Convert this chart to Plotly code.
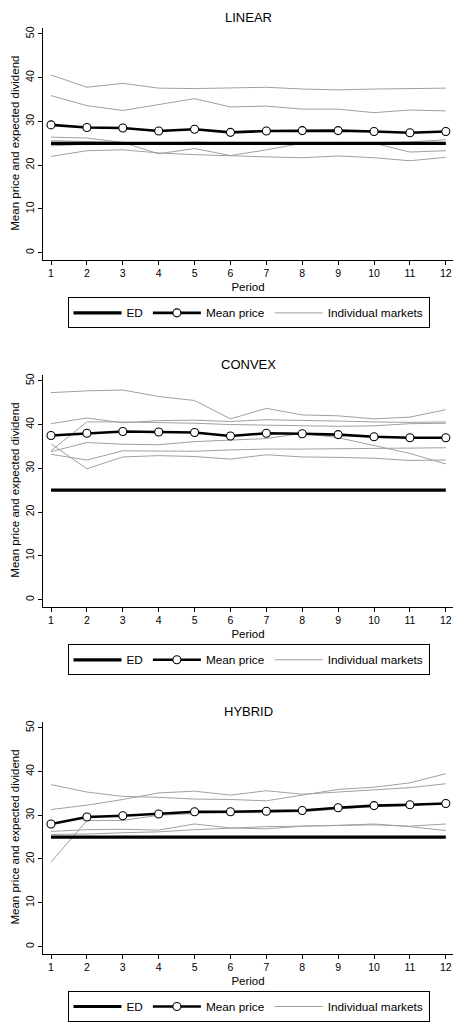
import plotly.graph_objects as go

# ---------------- data ----------------
periods = list(range(1, 13))
y_ticks = [0, 10, 20, 30, 40, 50]
ed_value = [25, 25, 25, 25, 25, 25, 25, 25, 25, 25, 25, 25]

# LINEAR
linear_mean = [29.2, 28.6, 28.5, 27.8, 28.2, 27.5, 27.8, 27.9, 27.9, 27.7, 27.4, 27.7]
linear_m1 = [40.6, 37.8, 38.7, 37.6, 37.5, 37.7, 37.8, 37.4, 37.2, 37.4, 37.5, 37.6]
linear_m2 = [35.9, 33.6, 32.5, 33.8, 35.2, 33.3, 33.5, 32.8, 32.8, 32.0, 32.6, 32.4]
linear_m3 = [22.0, 23.3, 23.5, 22.8, 22.4, 22.1, 21.9, 21.7, 22.1, 21.7, 21.0, 21.8]
linear_m4 = [26.4, 26.2, 25.2, 22.6, 23.8, 22.2, 23.5, 25.0, 25.2, 25.0, 23.0, 23.3]
linear_m5 = [25.6, 25.4, 25.2, 25.0, 25.3, 25.0, 25.0, 25.1, 25.0, 25.1, 25.3, 25.8]
linear_m6 = [24.4, 24.8, 25.0, 24.9, 25.0, 24.9, 25.0, 24.9, 25.0, 24.8, 24.9, 25.0]

# CONVEX
convex_mean = [37.5, 38.0, 38.4, 38.3, 38.2, 37.4, 38.0, 37.9, 37.7, 37.2, 37.0, 37.0]
convex_m1 = [47.3, 47.7, 47.9, 46.4, 45.5, 41.3, 43.7, 42.2, 42.0, 41.3, 41.7, 43.4]
convex_m2 = [40.2, 41.5, 40.4, 40.9, 41.0, 40.7, 41.1, 41.0, 40.8, 40.6, 40.5, 40.6]
convex_m3 = [34.0, 40.6, 40.6, 40.5, 40.3, 40.0, 39.9, 39.8, 39.6, 39.7, 40.2, 40.3]
convex_m4 = [33.8, 35.9, 35.5, 35.4, 36.1, 36.4, 36.8, 38.0, 37.0, 35.2, 33.4, 31.0]
convex_m5 = [33.2, 31.9, 34.0, 34.0, 33.9, 34.2, 34.4, 34.4, 34.5, 34.6, 34.7, 34.7]
convex_m6 = [35.6, 29.9, 32.6, 32.9, 32.7, 32.1, 33.1, 32.6, 32.5, 32.3, 31.8, 31.9]

# HYBRID
hybrid_mean = [28.0, 29.6, 29.9, 30.3, 30.8, 30.8, 30.9, 31.1, 31.7, 32.2, 32.4, 32.7]
hybrid_m1 = [37.0, 35.3, 34.3, 34.1, 33.7, 33.6, 33.3, 34.6, 35.9, 36.4, 37.4, 39.5]
hybrid_m2 = [31.3, 32.3, 33.6, 35.1, 35.5, 34.6, 35.6, 34.8, 35.3, 35.8, 36.3, 37.2]
hybrid_m3 = [19.3, 28.8, 28.8, 30.0, 30.4, 30.6, 30.6, 30.8, 31.4, 32.0, 32.2, 32.8]
hybrid_m4 = [26.3, 26.7, 26.8, 26.6, 28.0, 27.1, 26.9, 27.5, 27.7, 28.0, 27.4, 26.5]
hybrid_m5 = [25.6, 25.7, 26.0, 26.2, 26.7, 27.1, 27.4, 27.5, 27.7, 27.8, 27.5, 28.0]

panels = [
    ("LINEAR", linear_mean, [linear_m1, linear_m2, linear_m3, linear_m4, linear_m5, linear_m6]),
    ("CONVEX", convex_mean, [convex_m1, convex_m2, convex_m3, convex_m4, convex_m5, convex_m6]),
    ("HYBRID", hybrid_mean, [hybrid_m1, hybrid_m2, hybrid_m3, hybrid_m4, hybrid_m5]),
]

# ---------------- layout ----------------
W, H = 453, 1022
FONT = "Liberation Sans, Arial, Helvetica, sans-serif"
GRAY = "rgb(160,160,160)"
offsets = [0, 350, 700]

fig = go.Figure()
layout = dict(
    width=W, height=H, margin=dict(l=0, r=0, t=0, b=0),
    paper_bgcolor="white", plot_bgcolor="white",
    font=dict(family=FONT, color="black", size=11),
    annotations=[],
)

for i, (title, mean_vals, markets) in enumerate(panels):
    k = "" if i == 0 else str(i + 1)
    xa, ya = "x" + k, "y" + k
    leg = "legend" + k
    off = offsets[i]
    top, bottom = 28 + off, 262 + off

    for j, m in enumerate(markets):
        fig.add_trace(go.Scatter(
            x=periods, y=m, mode="lines", name="Individual markets",
            line=dict(color=GRAY, width=1), xaxis=xa, yaxis=ya,
            legend=leg, legendgroup="ind" + k, showlegend=(j == 0),
            legendrank=3, hoverinfo="skip"))
    fig.add_trace(go.Scatter(
        x=periods, y=ed_value, mode="lines", name="ED",
        line=dict(color="black", width=3.2), xaxis=xa, yaxis=ya,
        legend=leg, legendrank=1))
    fig.add_trace(go.Scatter(
        x=periods, y=mean_vals, mode="lines+markers", name="Mean price",
        line=dict(color="black", width=2.6),
        marker=dict(symbol="circle", size=8, color="white",
                    line=dict(color="black", width=1.1)),
        xaxis=xa, yaxis=ya, legend=leg, legendrank=2))

    layout["xaxis" + k] = dict(
        domain=[43 / W, 1.0], anchor=ya, range=[0.777, 12.2],
        tickvals=periods, ticks="outside", ticklen=4, tickwidth=1,
        tickcolor="black", showline=True, linecolor="black", linewidth=1,
        showgrid=False, zeroline=False, tickfont=dict(size=10.5),
        title=dict(text="Period", font=dict(size=11.5), standoff=4),
    )
    layout["yaxis" + k] = dict(
        domain=[1 - bottom / H, 1 - top / H], anchor=xa, range=[-1.6, 51.4],
        tickvals=y_ticks, ticks="outside", ticklen=4, tickwidth=1,
        tickcolor="black", showline=True, linecolor="black", linewidth=1,
        showgrid=False, zeroline=False, tickangle=-90, tickfont=dict(size=10.5),
    )
    layout[leg] = dict(
        orientation="h", x=248.5 / W, xanchor="center",
        y=1 - (300 + off) / H, yanchor="top",
        bordercolor="black", borderwidth=1, bgcolor="white",
        font=dict(size=11.8), itemwidth=48, traceorder="normal",
    )
    layout["annotations"].append(dict(
        text=title, x=248 / W, y=1 - (18 + off) / H, xref="paper", yref="paper",
        xanchor="center", yanchor="middle", showarrow=False, font=dict(size=13)))
    layout["annotations"].append(dict(
        text="Mean price and expected dividend", x=15 / W, y=1 - (145 + off) / H,
        xref="paper", yref="paper", xanchor="center", yanchor="middle",
        textangle=-90, showarrow=False, font=dict(size=11.5)))

fig.update_layout(**layout)
fig.write_html("out.html")
